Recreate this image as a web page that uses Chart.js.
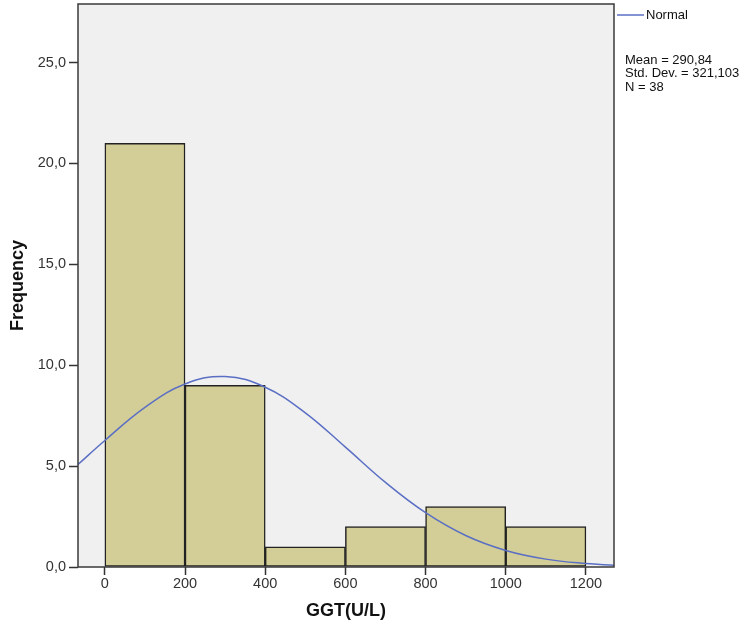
<!DOCTYPE html>
<html>
<head>
<meta charset="utf-8">
<script src="https://cdn.jsdelivr.net/npm/chart.js@4/dist/chart.umd.min.js"></script>
<style>
html,body{margin:0;padding:0;background:#fff;}
#wrap{width:755px;height:631px;}
</style>
</head>
<body>
<div id="wrap"><canvas id="c" width="755" height="631"></canvas></div>
<script>
// Histogram bins (GGT U/L)
const binCenters = [100, 300, 500, 700, 900, 1100];
const frequencies = [21, 9, 1, 2, 3, 2];
// Normal curve
const curveX = [-67, 0, 100, 200, 300, 400, 500, 600, 700, 800, 900, 1000, 1100, 1200, 1270];
const curveY = [5.08, 6.27, 7.91, 9.07, 9.44, 8.91, 7.64, 5.94, 4.19, 2.69, 1.56, 0.82, 0.39, 0.17, 0.09];
const xTickValues = [0, 200, 400, 600, 800, 1000, 1200];
const yTickValues = [0, 5, 10, 15, 20, 25];
const legendLabel = 'Normal';
const statsLines = ['Mean = 290,84', 'Std. Dev. = 321,103', 'N = 38'];
const xTitle = 'GGT(U/L)';
const yTitle = 'Frequency';

const FONT = '"Liberation Sans", Arial, sans-serif';

const frame = {
  id: 'frame',
  beforeDatasetsDraw(chart) {
    const a = chart.chartArea, ctx = chart.ctx;
    ctx.save();
    ctx.fillStyle = '#f0f0f0';
    ctx.fillRect(a.left, a.top, a.right - a.left, a.bottom - a.top);
    ctx.restore();
  },
  afterDraw(chart) {
    const a = chart.chartArea, ctx = chart.ctx;
    ctx.save();
    ctx.strokeStyle = '#3a3a3a';
    ctx.lineWidth = 1.5;
    ctx.strokeRect(a.left, a.top, a.right - a.left, a.bottom - a.top);
    // legend
    const lx = a.right + 3;
    ctx.strokeStyle = '#5a6fc4';
    ctx.lineWidth = 1.5;
    ctx.beginPath();
    ctx.moveTo(lx, 15);
    ctx.lineTo(lx + 27, 15);
    ctx.stroke();
    ctx.fillStyle = '#111';
    ctx.font = '13px ' + FONT;
    ctx.textBaseline = 'middle';
    ctx.textAlign = 'left';
    ctx.fillText(legendLabel, lx + 29, 15);
    statsLines.forEach((t, i) => ctx.fillText(t, lx + 8, 60 + i * 13.5));
    ctx.restore();
  }
};

new Chart(document.getElementById('c'), {
  type: 'bar',
  data: {
    datasets: [
      {
        type: 'line',
        label: legendLabel,
        data: curveX.map((x, i) => ({x: x, y: curveY[i]})),
        borderColor: '#5a6fc4',
        borderWidth: 1.5,
        pointRadius: 0,
        tension: 0.4,
        fill: false,
        order: 0
      },
      {
        type: 'bar',
        label: 'Frequency',
        data: binCenters.map((x, i) => ({x: x, y: frequencies[i]})),
        backgroundColor: '#d3ce97',
        borderColor: '#222',
        borderWidth: 1.5,
        borderSkipped: false,
        barPercentage: 1,
        categoryPercentage: 1,
        grouped: false,
        order: 1
      }
    ]
  },
  options: {
    responsive: false,
    animation: false,
    devicePixelRatio: 1,
    layout: {padding: {top: 4, right: 141, left: 0, bottom: 0}},
    plugins: {legend: {display: false}, tooltip: {enabled: false}},
    scales: {
      x: {
        type: 'linear',
        min: -67,
        max: 1270,
        offset: false,
        afterBuildTicks: s => { s.ticks = xTickValues.map(v => ({value: v})); },
        afterFit: s => { s.height = 64; s.paddingLeft = 0; s.paddingRight = 0; },
        ticks: {
          includeBounds: false,
          autoSkip: false,
          maxRotation: 0,
          padding: 0,
          color: '#333',
          font: {family: FONT, size: 14.5},
          callback: v => String(v)
        },
        grid: {display: true, offset: false, drawOnChartArea: false, drawTicks: true, tickLength: 8, tickColor: '#333', tickWidth: 1.5},
        border: {display: false},
        title: {display: true, text: xTitle, color: '#111', font: {family: FONT, size: 18, weight: 'bold'}, padding: {top: 0, bottom: 9}}
      },
      y: {
        type: 'linear',
        min: 0,
        max: 27.9,
        afterBuildTicks: s => { s.ticks = yTickValues.map(v => ({value: v})); },
        afterFit: s => { s.width = 78; s.paddingTop = 0; s.paddingBottom = 0; },
        ticks: {
          includeBounds: false,
          padding: 3,
          color: '#333',
          font: {family: FONT, size: 14.5},
          callback: v => v.toFixed(1).replace('.', ',')
        },
        grid: {display: true, drawOnChartArea: false, drawTicks: true, tickLength: 9, tickColor: '#333', tickWidth: 1.5},
        border: {display: false},
        title: {display: true, text: yTitle, color: '#111', font: {family: FONT, size: 18, weight: 'bold'}, padding: {top: 7, bottom: 0}}
      }
    }
  },
  plugins: [frame]
});
</script>
</body>
</html>
